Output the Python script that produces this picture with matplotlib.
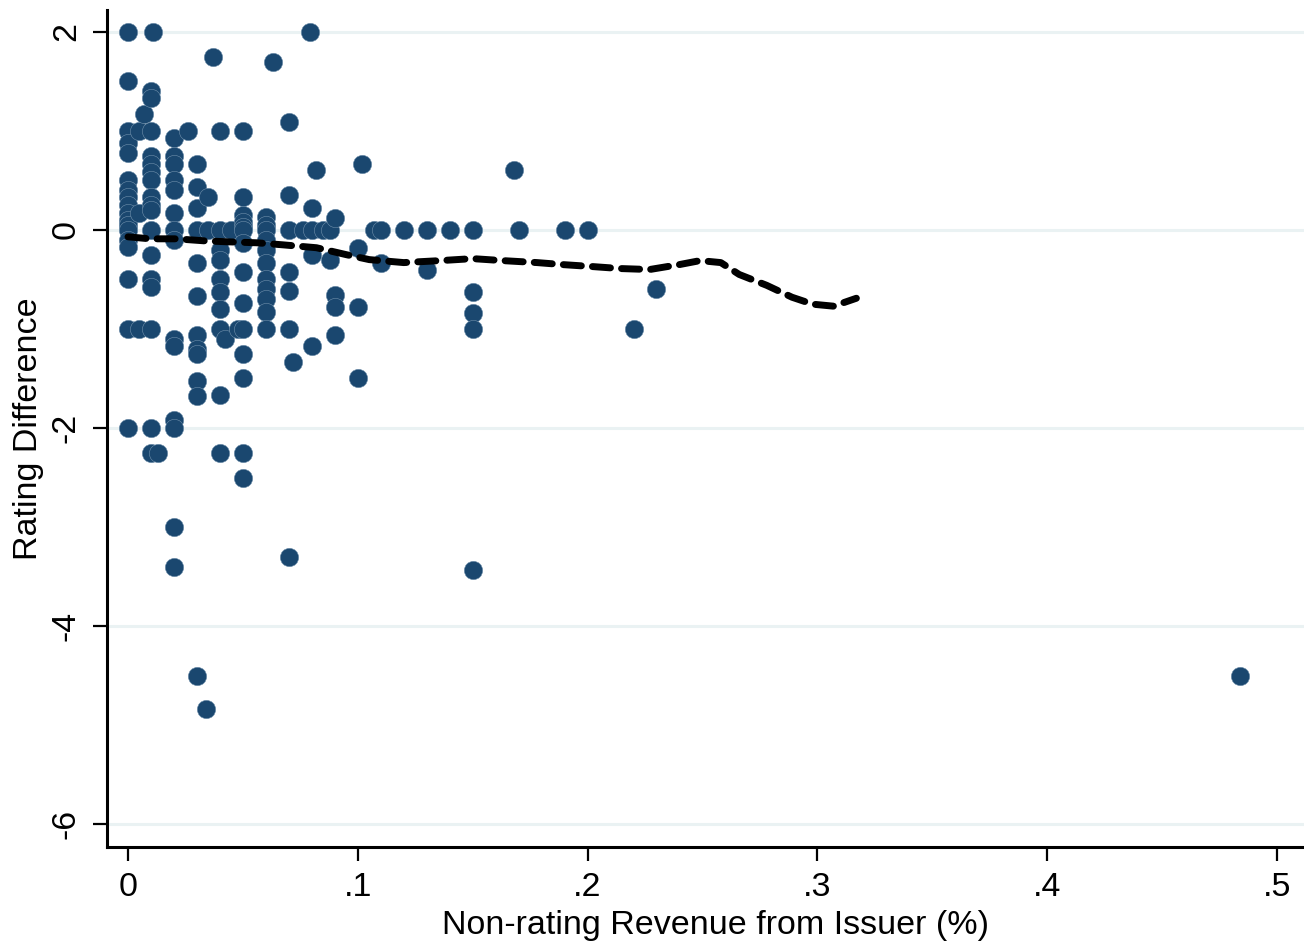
import matplotlib.pyplot as plt
import numpy as np

plt.rcParams['font.family'] = ['Liberation Sans', 'DejaVu Sans']

# scatter data, grouped by column of revenue share
cols = [
    (0.0, [2.0, 1.5, 1.0, 0.88, 0.78, 0.5, 0.4, 0.33, 0.25, 0.17, 0.1, 0.05, 0.0, -0.1, -0.17, -0.5, -1.0, -2.0]),
    (0.005, [1.0, 0.17, -1.0]),
    (0.007, [1.17]),
    (0.01, [1.4, 1.33, 1.0, 0.75, 0.67, 0.58, 0.5, 0.33, 0.25, 0.2, 0.0, -0.25, -0.5, -0.58, -1.0, -2.0, -2.25]),
    (0.011, [2.0]),
    (0.013, [-2.25]),
    (0.02, [0.93, 0.75, 0.67, 0.5, 0.4, 0.17, 0.0, -0.1, -1.1, -1.17, -1.92, -2.0, -3.0, -3.4]),
    (0.026, [1.0]),
    (0.03, [0.67, 0.43, 0.22, 0.0, -0.33, -0.67, -1.06, -1.2, -1.25, -1.53, -1.68, -4.5]),
    (0.034, [-4.84]),
    (0.035, [0.33, 0.0]),
    (0.037, [1.75]),
    (0.04, [1.0, 0.0, -0.2, -0.3, -0.5, -0.63, -0.8, -1.0, -1.67, -2.25]),
    (0.042, [-1.1]),
    (0.045, [0.0]),
    (0.048, [-1.0]),
    (0.05, [1.0, 0.33, 0.15, 0.08, 0.03, 0.0, -0.13, -0.43, -0.74, -1.0, -1.25, -1.5, -2.25, -2.5]),
    (0.06, [0.13, 0.05, 0.0, -0.1, -0.2, -0.33, -0.5, -0.6, -0.7, -0.83, -1.0]),
    (0.063, [1.7]),
    (0.07, [1.09, 0.35, 0.0, -0.42, -0.62, -1.0, -3.3]),
    (0.072, [-1.33]),
    (0.076, [0.0]),
    (0.079, [2.0]),
    (0.08, [0.22, 0.0, -0.25, -1.17]),
    (0.082, [0.6]),
    (0.085, [0.0]),
    (0.088, [0.0, -0.3]),
    (0.09, [0.12, -0.66, -0.78, -1.06]),
    (0.1, [-0.18, -0.78, -1.5]),
    (0.102, [0.67]),
    (0.107, [0.0]),
    (0.11, [0.0, -0.33]),
    (0.12, [0.0]),
    (0.13, [0.0, -0.4]),
    (0.14, [0.0]),
    (0.15, [0.0, -0.63, -0.84, -1.0, -3.43]),
    (0.168, [0.6]),
    (0.17, [0.0]),
    (0.19, [0.0]),
    (0.2, [0.0]),
    (0.22, [-1.0]),
    (0.23, [-0.6]),
    (0.484, [-4.5]),
]

# lowess fit
fit_x = [0.0, 0.0096, 0.021, 0.033, 0.043, 0.056, 0.067, 0.082, 0.095, 0.105, 0.12,
         0.136, 0.15, 0.163, 0.178, 0.189, 0.202, 0.214, 0.227, 0.24, 0.249, 0.258,
         0.266, 0.278, 0.289, 0.298, 0.307, 0.317]
fit_y = [-0.07, -0.09, -0.09, -0.11, -0.12, -0.13, -0.15, -0.18, -0.25, -0.30, -0.33,
         -0.31, -0.29, -0.31, -0.33, -0.35, -0.37, -0.39, -0.40, -0.35, -0.31, -0.33,
         -0.45, -0.56, -0.68, -0.75, -0.77, -0.69]

xticks = [0, 0.1, 0.2, 0.3, 0.4, 0.5]
xlabels = ['0', '.1', '.2', '.3', '.4', '.5']
yticks = [-6, -4, -2, 0, 2]

x = np.concatenate([[c] * len(v) for c, v in cols])
y = np.concatenate([v for c, v in cols])

fig = plt.figure(figsize=(13.04, 9.42), dpi=100)
ax = fig.add_axes([107 / 1304, 1 - 847 / 942, 1 - 107 / 1304, (847 - 10) / 942])

ax.set_xlim(-0.00914, 0.5118)
ax.set_ylim(-6.23, 2.22)

for t in yticks:
    ax.axhline(t, color='#eaf2f3', lw=2.2, zorder=0)

ax.scatter(x, y, s=175, color='#1a476f', edgecolors='#6f8fab', linewidths=0.4, zorder=3)
ax.plot(fit_x, fit_y, color='black', lw=5, dashes=(2.6, 1.6),
        dash_capstyle='round', solid_capstyle='round', zorder=4)

ax.spines['top'].set_visible(False)
ax.spines['right'].set_visible(False)
ax.spines['left'].set_linewidth(2.2)
ax.spines['bottom'].set_linewidth(2.2)

ax.set_xticks(xticks)
ax.set_xticklabels(xlabels)
ax.set_yticks(yticks)
ax.set_yticklabels([str(t) for t in yticks], rotation=90, va='center')
ax.tick_params(axis='both', length=10, width=1.6, labelsize=24.5)
ax.tick_params(axis='x', pad=8)
ax.tick_params(axis='y', pad=8)

ax.set_xlabel('Non-rating Revenue from Issuer (%)', fontsize=24.5, labelpad=5)
ax.xaxis.label.set_x(0.508)
ax.set_ylabel('Rating Difference', fontsize=24.5, labelpad=5)

fig.savefig('out.png', dpi=100)
